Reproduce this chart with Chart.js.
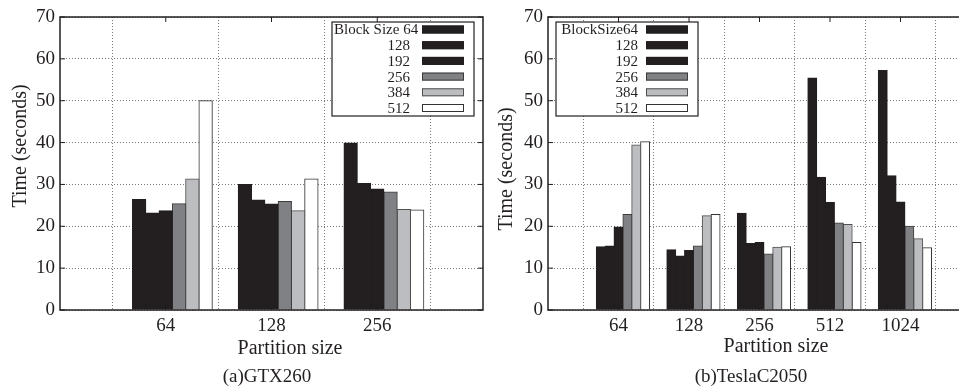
<!DOCTYPE html>
<html>
<head>
<meta charset="utf-8">
<script src="https://cdn.jsdelivr.net/npm/chart.js@4.4.1/dist/chart.umd.min.js"></script>
<style>
  html, body { margin: 0; padding: 0; background: #fff; overflow: hidden; width: 959px; height: 391px; }
  canvas { position: absolute; top: 0; }
  #gtx { left: 0; }
  #tesla { left: 480px; }
</style>
</head>
<body>
<canvas id="gtx" width="490" height="391"></canvas>
<canvas id="tesla" width="500" height="391"></canvas>
<script>
// block sizes (series) and their legend texts
const gtxLegend = ["Block Size 64", "128", "192", "256", "384", "512"];
const teslaLegend = ["BlockSize64", "128", "192", "256", "384", "512"];

// (a) GTX260
const gtxPartitions = ["64", "128", "256"];
const gtxBlock64 = [26.4, 30.0, 39.9];
const gtxBlock128 = [23.2, 26.3, 30.2];
const gtxBlock192 = [23.7, 25.3, 28.9];
const gtxBlock256 = [25.4, 25.9, 28.2];
const gtxBlock384 = [31.3, 23.7, 24.0];
const gtxBlock512 = [50.0, 31.3, 23.9];

// (b) TeslaC2050
const teslaPartitions = ["64", "128", "256", "512", "1024"];
const teslaBlock64 = [15.1, 14.4, 23.1, 55.4, 57.2];
const teslaBlock128 = [15.3, 12.9, 15.9, 31.7, 32.1];
const teslaBlock192 = [19.8, 14.2, 16.1, 25.7, 25.8];
const teslaBlock256 = [22.8, 15.3, 13.4, 20.8, 20.0];
const teslaBlock384 = [39.4, 22.5, 15.0, 20.4, 17.0];
const teslaBlock512 = [40.2, 22.8, 15.1, 16.1, 14.9];

const yMin = 0, yMax = 70, yStep = 10;

const INK = "#231f20";
const SERIF = "'Liberation Serif', 'Times New Roman', serif";
const fills = [INK, INK, INK, "#808184", "#bcbdc0", "#ffffff"];
const strokes = [INK, INK, INK, "#3c3c3c", "#505050", "#333333"];

// empty slot on each side, like the gnuplot x range
const pad = (arr) => [null, ...arr, null];

const makeDatasets = (legend, series) => [
  // empty spacer slot: gnuplot clusters sit half a bar right of the tick
  { label: "", data: pad(series[0].map(() => null)), backgroundColor: "rgba(0,0,0,0)", borderWidth: 0 },
  ...series.map((values, i) => ({
    label: legend[i],
    data: pad(values),
    backgroundColor: fills[i],
    borderColor: strokes[i],
    borderWidth: 1,
  })),
];

const paperPlugin = {
  id: "paper",
  afterDatasetsDraw(chart, args, opts) {
    const ctx = chart.ctx;
    const a = chart.chartArea;
    const xs = chart.scales.x;
    const ys = chart.scales.y;
    ctx.save();

    // small inward tick marks
    ctx.strokeStyle = INK;
    ctx.lineWidth = 1;
    ctx.beginPath();
    ys.ticks.forEach((t) => {
      const py = ys.getPixelForValue(t.value);
      ctx.moveTo(a.left, py); ctx.lineTo(a.left + 5, py);
      ctx.moveTo(a.right, py); ctx.lineTo(a.right - 5, py);
    });
    xs.ticks.forEach((t, i) => {
      if (!t.label) return;
      const px = xs.getPixelForTick(i);
      ctx.moveTo(px, a.bottom); ctx.lineTo(px, a.bottom - 5);
      ctx.moveTo(px, a.top); ctx.lineTo(px, a.top + 5);
    });
    ctx.stroke();

    // frame
    ctx.lineWidth = 1.5;
    ctx.strokeRect(a.left, a.top, a.right - a.left, a.bottom - a.top);

    // key box
    const k = opts.key;
    const bx = k.fromRight ? a.right - k.offset - k.width : a.left + k.offset;
    const by = a.top + 5;
    ctx.fillStyle = "#fff";
    ctx.fillRect(bx, by, k.width, k.height);
    ctx.lineWidth = 1.2;
    ctx.strokeRect(bx, by, k.width, k.height);

    ctx.font = "15px " + SERIF;
    ctx.textBaseline = "middle";
    ctx.textAlign = "left";
    chart.data.datasets.filter((ds) => ds.label).forEach((ds, i) => {
      const cy = by + 7.5 + i * 15.7;
      const w = ctx.measureText(ds.label).width;
      const tx = Math.max(bx + k.textEnd - w, bx + 2);
      ctx.fillStyle = INK;
      ctx.fillText(ds.label, tx, cy + 1);
      ctx.fillStyle = ds.backgroundColor;
      ctx.fillRect(bx + k.sampleX, cy - 4, 42, 8);
      ctx.strokeStyle = ds.borderColor;
      ctx.lineWidth = 1;
      ctx.strokeRect(bx + k.sampleX + 0.5, cy - 3.5, 41, 7);
    });
    ctx.restore();
  },
  afterDraw(chart, args, opts) {
    const ctx = chart.ctx;
    const t = opts.texts;
    ctx.save();
    ctx.fillStyle = INK;
    ctx.textAlign = "center";
    ctx.textBaseline = "middle";
    ctx.font = "20px " + SERIF;
    ctx.fillText("Partition size", t.xTitle[0], t.xTitle[1]);
    ctx.save();
    ctx.translate(t.yTitle[0], t.yTitle[1]);
    ctx.rotate(-Math.PI / 2);
    ctx.fillText("Time (seconds)", 0, 0);
    ctx.restore();
    ctx.font = "19px " + SERIF;
    ctx.fillText(t.caption, t.captionPos[0], t.captionPos[1]);
    ctx.restore();
  },
};

const makeChart = (canvas, partitions, datasets, yWidth, padRight, paperOpts) =>
  new Chart(canvas, {
    type: "bar",
    data: { labels: pad(partitions).map((p) => p || ""), datasets },
    plugins: [paperPlugin],
    options: {
      responsive: false,
      animation: false,
      datasets: {
        bar: { categoryPercentage: 0.88, barPercentage: 1.0, inflateAmount: 0.5 },
      },
      layout: { padding: { top: 17, right: padRight, left: 0, bottom: 0 } },
      plugins: { legend: { display: false }, tooltip: { enabled: false }, paper: paperOpts },
      scales: {
        x: {
          offset: false,
          grid: { color: "#7a7a7a", lineWidth: 1, drawTicks: false },
          border: { display: false, dash: [1, 2] },
          ticks: { color: INK, font: { family: SERIF, size: 19 }, padding: 5, autoSkip: false, maxRotation: 0 },
          afterFit: (s) => { s.height = 81; },
        },
        y: {
          min: yMin,
          max: yMax,
          grid: { color: "#7a7a7a", lineWidth: 1, drawTicks: false },
          border: { display: false, dash: [1, 2] },
          ticks: { stepSize: yStep, color: INK, font: { family: SERIF, size: 19 }, padding: 5 },
          afterFit: (s) => { s.width = yWidth; },
        },
      },
    },
  });

makeChart(
  document.getElementById("gtx"),
  gtxPartitions,
  makeDatasets(gtxLegend, [gtxBlock64, gtxBlock128, gtxBlock192, gtxBlock256, gtxBlock384, gtxBlock512]),
  60, 7,
  {
    key: { fromRight: true, offset: 9, width: 142, height: 94, textEnd: 78, sampleX: 90 },
    texts: { xTitle: [290, 349], yTitle: [20.5, 146], caption: "(a)GTX260", captionPos: [267, 377] },
  }
);

makeChart(
  document.getElementById("tesla"),
  teslaPartitions,
  makeDatasets(teslaLegend, [teslaBlock64, teslaBlock128, teslaBlock192, teslaBlock256, teslaBlock384, teslaBlock512]),
  68, 9,
  {
    key: { fromRight: false, offset: 8, width: 142, height: 94, textEnd: 82, sampleX: 90 },
    texts: { xTitle: [296, 347], yTitle: [27, 169], caption: "(b)TeslaC2050", captionPos: [271, 377] },
  }
);
</script>
</body>
</html>
